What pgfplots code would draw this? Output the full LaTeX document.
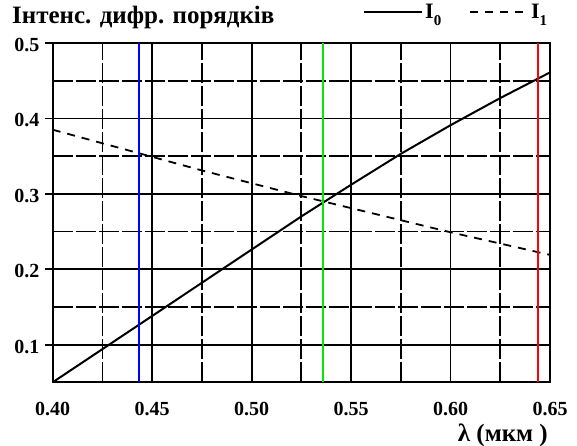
\documentclass[border=0pt]{standalone}
\usepackage{fontspec}
\setmainfont{Liberation Serif}
\usepackage{pgfplots}
\pgfplotsset{compat=1.18}
\definecolor{lgreen}{RGB}{0,235,0}
\begin{document}
\begin{tikzpicture}
\begin{axis}[
  scale only axis,
  width=497.3pt, height=339.3pt,
  xmin=0.40, xmax=0.65, ymin=0.05, ymax=0.5,
  xtick={0.40,0.45,0.50,0.55,0.60,0.65},
  ytick={0.1,0.2,0.3,0.4,0.5},
  minor xtick={0.425,0.475,0.525,0.575,0.625},
  minor ytick={0.15,0.25,0.35,0.45},
  grid=both,
  major grid style={black, line width=1.8pt},
  minor grid style={black, line width=1.8pt, dash pattern=on 20pt off 3pt},
  axis line style={line width=2pt},
  tick align=outside, xtick pos=bottom, ytick pos=left,
  major tick length=8pt, minor tick length=0pt,
  xtick style={draw=none},
  ytick style={black, line width=1.8pt},
  /pgf/number format/assume math mode=true,
  ticklabel style={font=\bfseries\fontsize{20}{20}\selectfont},
  xticklabel style={/pgf/number format/fixed, /pgf/number format/fixed zerofill, /pgf/number format/precision=2, anchor=base, yshift=-25pt},
  yticklabel style={/pgf/number format/fixed, /pgf/number format/precision=1, anchor=east, inner sep=0pt, xshift=-5pt, yshift=-2pt},
  title={Інтенс. дифр. порядків},
  title style={font=\bfseries\fontsize{25}{25}\selectfont, anchor=base west, at={(axis description cs:-0.0818,1.041)}, inner sep=0pt},
  xlabel={λ (мкм )},
  xlabel style={font=\bfseries\fontsize{25}{25}\selectfont, anchor=base east, at={(axis description cs:0.996,-0.173)}, inner sep=0pt},
  legend columns=2,
  legend style={draw=none, fill=none, inner sep=0pt, at={(axis description cs:0.624,1.092)}, anchor=west,
    font=\bfseries\fontsize{22}{22}\selectfont},
  legend image code/.code={\draw[#1] (0pt,0pt) -- (58pt,0pt);},
]
\addplot[black, line width=2pt] coordinates {
(0.400,0.050) (0.425,0.094) (0.450,0.138) (0.475,0.182) (0.500,0.226) (0.525,0.270)
(0.550,0.312) (0.575,0.353) (0.600,0.391) (0.625,0.427) (0.650,0.461)};
\addlegendentry{I\raisebox{-7pt}{\fontsize{15}{15}\selectfont 0}\hspace*{26pt}}
\addplot[black, line width=1.8pt, dash pattern=on 8pt off 7pt] coordinates {
(0.400,0.385) (0.425,0.367) (0.450,0.349) (0.475,0.331) (0.500,0.314) (0.525,0.297)
(0.550,0.281) (0.575,0.265) (0.600,0.249) (0.625,0.234) (0.650,0.219)};
\addlegendentry{I\raisebox{-7pt}{\fontsize{15}{15}\selectfont 1}}
\addplot[blue, line width=2pt, forget plot] coordinates {(0.4435,0.05) (0.4435,0.5)};
\addplot[lgreen, line width=2pt, forget plot] coordinates {(0.5357,0.05) (0.5357,0.5)};
\addplot[red, line width=2pt, forget plot] coordinates {(0.6441,0.05) (0.6441,0.5)};
\end{axis}
\pgfresetboundingbox
\path[use as bounding box] (-52.7pt,-62.7pt) rectangle (524.3pt,382.3pt);
\end{tikzpicture}
\end{document}
